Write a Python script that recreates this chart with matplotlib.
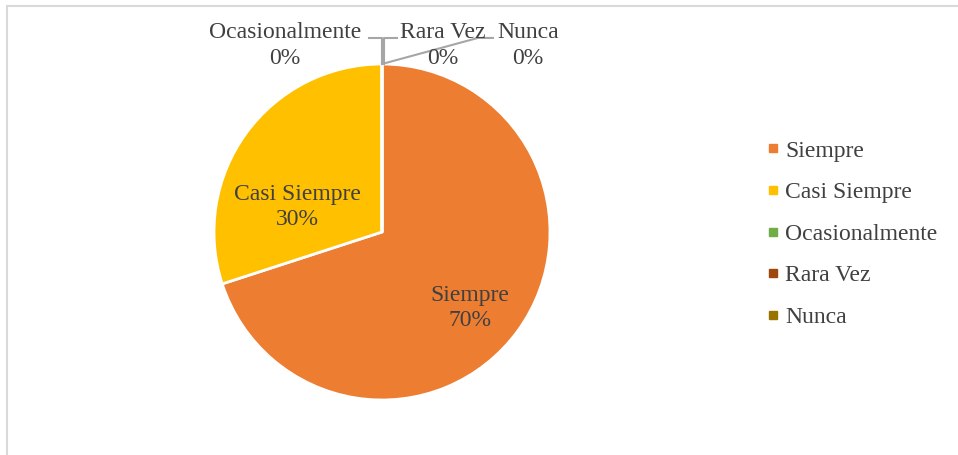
import matplotlib.pyplot as plt
from matplotlib.lines import Line2D
from matplotlib.patches import Rectangle

# data
categories = ['Siempre', 'Casi Siempre', 'Ocasionalmente', 'Rara Vez', 'Nunca']
values = [70, 30, 0, 0, 0]
colors = ['#ED7D31', '#FFC000', '#70AD47', '#9E480E', '#997300']

# label placement (pie radius units)
label_pos = [(0.524, -0.452), (-0.506, 0.149), (-0.577, 1.11), (0.363, 1.11), (0.869, 1.11)]

plt.rcParams['font.family'] = ['Liberation Serif', 'DejaVu Serif']
txt_color = '#404040'

W, H = 958, 455
fig = plt.figure(figsize=(W / 100, H / 100), dpi=100)

# outer chart border (cropped at right/bottom)
fig.patches.append(Rectangle((7 / W, -0.1), 1.2, 1 - 6 / H + 0.1, transform=fig.transFigure,
                             fill=False, edgecolor='#D9D9D9', linewidth=1.5))

cx, cy, r = 382, 455 - 232, 168
ax = fig.add_axes([(cx - r) / W, (cy - r) / H, 2 * r / W, 2 * r / H])
ax.pie(values, colors=colors, startangle=90, counterclock=False, radius=1,
       wedgeprops=dict(edgecolor='white', linewidth=2))
ax.set_xlim(-1, 1)
ax.set_ylim(-1, 1)
ax.set_aspect('equal')
ax.axis('off')

total = sum(values)
for name, v, (lx, ly) in zip(categories, values, label_pos):
    ax.text(lx, ly, f'{name}\n{round(100 * v / total)}%', ha='center', va='center',
            fontsize=17, color=txt_color, linespacing=1.2 if v else 1.3)

# leader lines for the zero slices
lc = '#A6A6A6'
ylead = 1.155
ax.plot([0, 0, -0.08], [1, ylead, ylead], color=lc, lw=1.5, clip_on=False)
ax.plot([0.01, 0.01, 0.09], [1, ylead, ylead], color=lc, lw=1.5, clip_on=False)
ax.plot([0, 0.57, 0.66], [1, ylead, ylead], color=lc, lw=1.5, clip_on=False)

handles = [Line2D([], [], marker='s', linestyle='', markersize=6, color=c) for c in colors]
leg = fig.legend(handles, categories, loc='center left', bbox_to_anchor=(766 / W, 1 - 234 / H),
                 frameon=False, fontsize=17, labelspacing=0.85, handletextpad=0.2,
                 handlelength=0.6, borderpad=0, borderaxespad=0, labelcolor=txt_color)

fig.savefig('out.png', dpi=100)
